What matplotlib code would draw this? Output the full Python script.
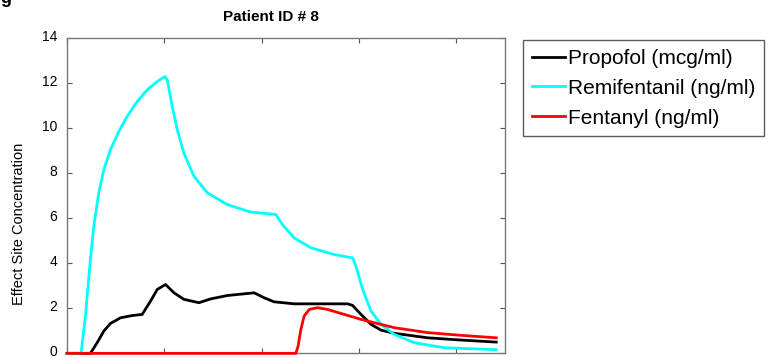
import matplotlib.pyplot as plt
import matplotlib.transforms as mtransforms

plt.rcParams["font.family"] = ["Liberation Sans", "DejaVu Sans"]

# time axis (min) and effect site concentrations
propofol_t = [0, 24.0, 30.9, 37.8, 44.6, 55.0, 67.0, 77.2, 85.8, 92.7, 101.3, 109.9, 120.1,
              135.6, 147.6, 164.8, 192.3, 202.5, 212.8, 233.4, 288.4, 293.5, 302.1,
              312.4, 322.7, 336.4, 370.7, 405.1, 441.1]
propofol_c = [0, 0, 0.47, 0.99, 1.33, 1.58, 1.68, 1.73, 2.32, 2.84, 3.06, 2.69, 2.40,
              2.25, 2.42, 2.57, 2.69, 2.47, 2.29, 2.20, 2.20, 2.13, 1.73,
              1.29, 1.03, 0.89, 0.69, 0.59, 0.50]

remi_t = [0, 14.4, 18.9, 24.0, 27.5, 32.6, 37.8, 44.6, 53.2, 61.8, 72.1, 82.4, 92.7,
          100.6, 103.0, 108.1, 113.3, 120.1, 130.4, 144.2, 164.8, 188.8, 214.6,
          221.4, 233.4, 250.6, 274.6, 293.5, 296.9, 303.8, 312.4, 322.7, 336.4,
          357.0, 387.9, 441.1]
remi_c = [0, 0, 1.66, 4.17, 5.65, 7.13, 8.16, 9.05, 9.86, 10.53, 11.19, 11.71, 12.08,
          12.30, 12.15, 10.97, 9.93, 8.90, 7.87, 7.13, 6.61, 6.28, 6.17,
          5.72, 5.13, 4.69, 4.39, 4.24, 3.87, 2.84, 1.88, 1.29, 0.84,
          0.47, 0.25, 0.16]

fent_t = [0, 235.2, 237.5, 240.3, 243.7, 248.9, 257.5, 267.8, 284.9, 302.1, 319.3,
          336.4, 370.7, 405.1, 441.1]
fent_c = [0, 0, 0.33, 1.06, 1.66, 1.95, 2.03, 1.95, 1.73, 1.51, 1.32,
          1.14, 0.92, 0.80, 0.69]

fig = plt.figure(figsize=(7.75, 3.58), dpi=100)
ax = fig.add_axes([0.0865, 0.013, 0.565, 0.880])

ax.plot(propofol_t, propofol_c, color="black", lw=2, label="Propofol (mcg/ml)",
        clip_on=False, zorder=3)
ax.plot(remi_t, remi_c, color="cyan", lw=2, label="Remifentanil (ng/ml)",
        clip_on=False, zorder=3)
ax.plot(fent_t, fent_c, color="red", lw=2, label="Fentanyl (ng/ml)",
        clip_on=False, zorder=3)

ax.set_xlim(0, 450)
ax.set_ylim(0, 14)
ax.set_xticks([0, 100, 200, 300, 400])
ax.set_xticklabels([])
ax.set_yticks(range(0, 15, 2))
ax.tick_params(direction="in", top=True, right=True, labelsize=10,
               length=3.6, pad=7, color="#555555")
for s in ax.spines.values():
    s.set_color("#777777")
    s.set_linewidth(1)

# nudge y tick labels up a little, as in the original
shift = mtransforms.ScaledTranslation(0, 3 / 100, fig.dpi_scale_trans)
for lbl in ax.get_yticklabels():
    lbl.set_transform(lbl.get_transform() + shift)

ax.set_ylabel("Effect Site Concentration", fontsize=10.5)
ax.yaxis.set_label_coords(-0.094, 0.41)
ax.text(0.465, 1.0 + 21.5 / 315, "Patient ID # 8", transform=ax.transAxes,
        fontsize=11, fontweight="bold", ha="center", va="center")

fig.text(0.0, 1.005, "g", fontsize=13, fontweight="bold", va="center", ha="left")

leg = fig.legend(loc="upper left", bbox_to_anchor=(0.675, 0.888), fontsize=15,
                 frameon=True, fancybox=False, edgecolor="#333333",
                 handlelength=1.6, handletextpad=0.12, borderpad=0.42,
                 labelspacing=0.52, borderaxespad=0)
leg.get_frame().set_linewidth(1)

fig.savefig("out.png", dpi=100)
